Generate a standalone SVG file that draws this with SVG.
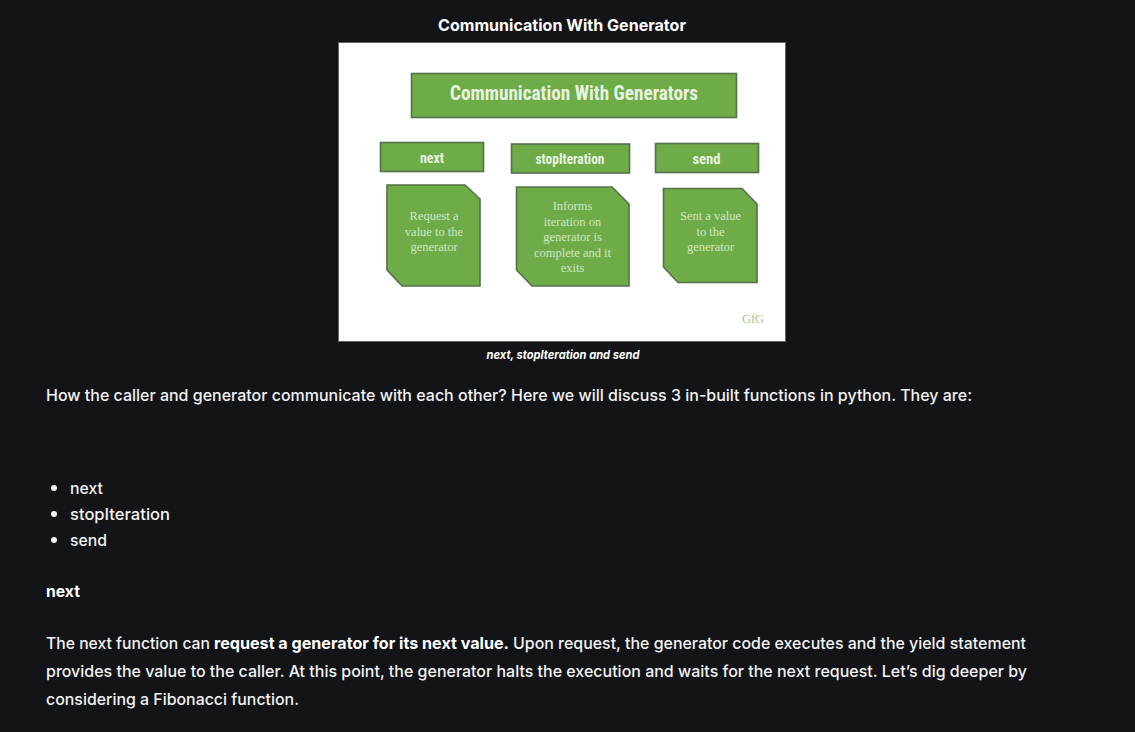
<svg xmlns="http://www.w3.org/2000/svg" width="1135" height="732" viewBox="0 0 1135 732">
<style>
.t{font-family:"Inter","Roboto",sans-serif;font-size:16.5px;fill:#f2f2f2;font-weight:500}
.b{font-weight:700;fill:#fff}
.g{fill:#6dac47;stroke:#55704a;stroke-width:1.6}
.h{font-family:"Roboto Condensed","Liberation Sans",sans-serif;font-weight:700;fill:#e8f2e0;text-anchor:middle}
.s{font-family:"Liberation Serif",serif;font-size:12.5px;fill:#d3e5c8;text-anchor:middle}
</style>
<rect width="1135" height="732" fill="#121418"/>
<text class="t b" x="438" y="31" textLength="248" lengthAdjust="spacingAndGlyphs">Communication With Generator</text>
<g id="figure">
<rect x="338.500" y="42.500" width="447" height="299" fill="#fff" stroke="#666" stroke-width="1"/>
</g>
<g id="node-title"><rect class="g" x="411.500" y="73.500" width="325" height="44"/>
<text class="h" x="574" y="100" font-size="21" textLength="248" lengthAdjust="spacingAndGlyphs">Communication With Generators</text></g>
<g id="node-next"><rect class="g" x="380.500" y="142.500" width="103" height="29"/>
<text class="h" x="432" y="163" font-size="14" textLength="24" lengthAdjust="spacingAndGlyphs">next</text></g>
<g id="node-stop"><rect class="g" x="511.500" y="144" width="118" height="29"/>
<text class="h" x="570" y="164" font-size="14" textLength="69" lengthAdjust="spacingAndGlyphs">stopIteration</text></g>
<g id="node-send"><rect class="g" x="655.500" y="143.500" width="103" height="29"/>
<text class="h" x="706.500" y="164" font-size="14" textLength="28" lengthAdjust="spacingAndGlyphs">send</text></g>
<g id="card-next"><path class="g" d="M387 185H465L480 199V286H402L387 270Z"/>
<text class="s" x="434" y="220">Request a</text><text class="s" x="434" y="236">value to the</text><text class="s" x="434" y="251">generator</text></g>
<g id="card-stop"><path class="g" d="M516.500 187H612L629 204V286H532L516.500 270Z"/>
<text class="s" x="572.500" y="210">Informs</text><text class="s" x="572.500" y="226">iteration on</text><text class="s" x="572.500" y="241">generator is</text><text class="s" x="572.500" y="257">complete and it</text><text class="s" x="572.500" y="272">exits</text></g>
<g id="card-send"><path class="g" d="M663.500 188.500H742L757 204V282.500H678L663.500 267Z"/>
<text class="s" x="710.500" y="220">Sent a value</text><text class="s" x="710.500" y="236">to the</text><text class="s" x="710.500" y="251">generator</text></g>
<text x="753" y="323" font-family="Liberation Serif,serif" font-size="12.5" fill="#9cc78a" text-anchor="middle">GfG</text>
<text class="t b" x="486.500" y="359" style="font-size:12px;font-style:italic" textLength="153" lengthAdjust="spacingAndGlyphs">next, stopIteration and send</text>
<text class="t" x="46" y="401" textLength="926" lengthAdjust="spacingAndGlyphs">How the caller and generator communicate with each other? Here we will discuss 3 in-built functions in python. They are:</text>
<g fill="#f2f2f2"><circle cx="54" cy="488" r="3"/><circle cx="54" cy="514" r="3"/><circle cx="54" cy="540" r="3"/></g>
<text class="t" x="70" y="494" textLength="33" lengthAdjust="spacingAndGlyphs">next</text>
<text class="t" x="70" y="520" textLength="100" lengthAdjust="spacingAndGlyphs">stopIteration</text>
<text class="t" x="70" y="546" textLength="37" lengthAdjust="spacingAndGlyphs">send</text>
<text class="t b" x="46" y="597" textLength="34" lengthAdjust="spacingAndGlyphs">next</text>
<text class="t" x="46" y="649" textLength="164" lengthAdjust="spacingAndGlyphs">The next function can</text>
<text class="t b" x="214" y="649" textLength="295" lengthAdjust="spacingAndGlyphs">request a generator for its next value.</text>
<text class="t" x="513" y="649" textLength="513" lengthAdjust="spacingAndGlyphs">Upon request, the generator code executes and the yield statement</text>
<text class="t" x="46" y="677" textLength="981" lengthAdjust="spacingAndGlyphs">provides the value to the caller. At this point, the generator halts the execution and waits for the next request. Let’s dig deeper by</text>
<text class="t" x="46" y="705" textLength="253" lengthAdjust="spacingAndGlyphs">considering a Fibonacci function.</text>
</svg>
